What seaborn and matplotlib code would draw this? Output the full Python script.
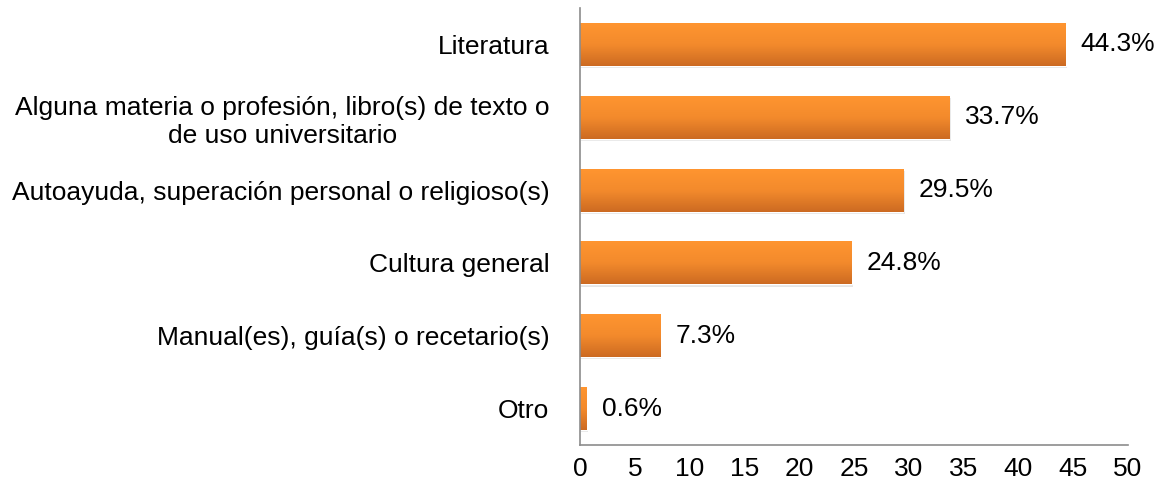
import numpy as np
import pandas as pd
import matplotlib
matplotlib.use("Agg")
import matplotlib.pyplot as plt
import seaborn as sns
from matplotlib.colors import LinearSegmentedColormap

categories = [
    "Literatura",
    "Alguna materia o profesión, libro(s) de texto o\nde uso universitario",
    "Autoayuda, superación personal o religioso(s)",
    "Cultura general",
    "Manual(es), guía(s) o recetario(s)",
    "Otro",
]
values = [44.3, 33.7, 29.5, 24.8, 7.3, 0.6]
x_ticks = [0, 5, 10, 15, 20, 25, 30, 35, 40, 45, 50]

sns.set_style("white")
plt.rcParams["font.family"] = ["Liberation Sans", "DejaVu Sans"]
plt.rcParams["text.color"] = "black"
plt.rcParams["xtick.color"] = "black"
plt.rcParams["ytick.color"] = "black"

df = pd.DataFrame({"cat": categories, "val": values})

fig = plt.figure(figsize=(11.61, 4.91), dpi=100)
ax = fig.add_axes([0.4996, 0.0937, 0.472, 0.89])

sns.barplot(data=df, x="val", y="cat", orient="h", color="#F08A2C",
            width=0.59, ax=ax, saturation=1)

# gradient fill for each bar (light at top, darker at bottom)
cmap = LinearSegmentedColormap.from_list("og", ["#FF9530", "#F38A2C", "#CC6A22"])
grad = np.linspace(0, 1, 256).reshape(-1, 1)
for patch in ax.patches:
    x0, y0 = patch.get_x(), patch.get_y()
    w, h = patch.get_width(), patch.get_height()
    sh = plt.Rectangle((x0 + 0.12, y0 + 0.03), w, h, color="#000000", alpha=0.10,
                       zorder=patch.get_zorder() - 0.5, linewidth=0)
    ax.add_patch(sh)
    im = ax.imshow(grad, extent=[x0, x0 + w, y0 + h, y0], aspect="auto",
                   cmap=cmap, origin="upper", zorder=patch.get_zorder() + 0.1)
    im.set_clip_path(patch)

labels = [f"{v:.1f}%" for v in values]
ax.bar_label(ax.containers[0], labels=labels, padding=11, fontsize=19, color="black")

ax.set_xlim(0, 50)
ax.set_ylim(len(categories) - 0.5, -0.5)
ax.set_xticks(x_ticks)
ax.set_xticklabels([str(t) for t in x_ticks], fontsize=19)
ax.tick_params(axis="x", length=0, pad=9)
ax.tick_params(axis="y", length=0, pad=22, labelsize=19)
for lab in ax.get_yticklabels():
    lab.set_multialignment("center")
ax.set_xlabel("")
ax.set_ylabel("")

for s in ["top", "right"]:
    ax.spines[s].set_visible(False)
for s in ["left", "bottom"]:
    ax.spines[s].set_color("#8C8C8C")
    ax.spines[s].set_linewidth(1.2)

fig.savefig("out.png", dpi=100)
